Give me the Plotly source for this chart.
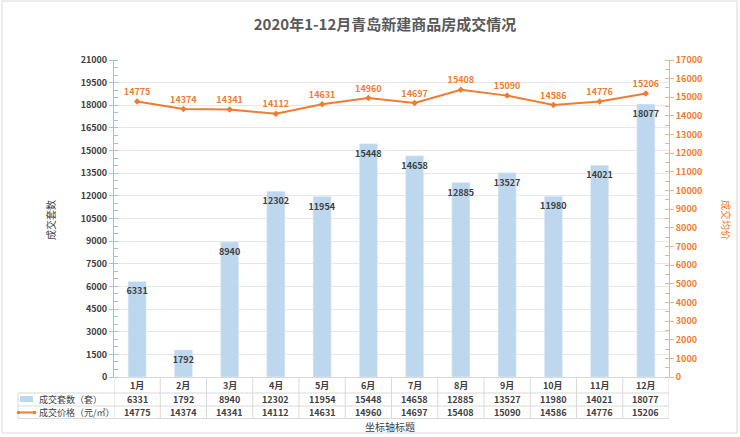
import plotly.graph_objects as go

months = ['1月', '2月', '3月', '4月', '5月', '6月', '7月', '8月', '9月', '10月', '11月', '12月']
units_sold = [6331, 1792, 8940, 12302, 11954, 15448, 14658, 12885, 13527, 11980, 14021, 18077]
avg_price = [14775, 14374, 14341, 14112, 14631, 14960, 14697, 15408, 15090, 14586, 14776, 15206]

W, H = 740, 437
L, R, T, B = 114, 669, 60, 377
FONT = "Noto Sans CJK SC"
DARK = '#404040'
BLUE = '#BDD7EE'
ORANGE = '#ED7D31'
GRID = '#D9D9D9'


def px_x(p):
    return (p - L) / (R - L)


def px_y(p):
    return (B - p) / (B - T)


fig = go.Figure()
fig.add_trace(go.Bar(
    x=months, y=units_sold, name='成交套数（套）',
    marker_color=BLUE, text=units_sold, textposition='inside',
    insidetextanchor='end', textangle=0, constraintext='none',
    textfont=dict(size=9, color=DARK, family=FONT, weight='bold'),
))
fig.add_trace(go.Scatter(
    x=months, y=avg_price, name='成交价格（元/㎡）', yaxis='y2',
    mode='lines+markers+text', text=avg_price, textposition='top center',
    line=dict(color=ORANGE, width=2),
    marker=dict(symbol='diamond', size=5, color=ORANGE),
    textfont=dict(size=9, color=ORANGE, family=FONT, weight='bold'),
    cliponaxis=False,
))

fig.update_layout(
    width=W, height=H,
    margin=dict(l=L, r=W - R, t=T, b=H - B),
    paper_bgcolor='white', plot_bgcolor='white',
    showlegend=False, bargap=0.61,
    font=dict(family=FONT, color=DARK),
    title=dict(text='2020年1-12月青岛新建商品房成交情况', x=385 / W, xanchor='center',
               y=1 - 25 / H, yanchor='middle',
               font=dict(size=15, color='#595959', family=FONT, weight='bold')),
    xaxis=dict(range=[-0.5, 11.5], showticklabels=False, ticks='',
               showline=True, linecolor=GRID, linewidth=1, showgrid=False),
    yaxis=dict(range=[0, 21000], dtick=1500, tickformat='d', showgrid=True, gridcolor='#E7E7E7',
               showline=True, linecolor='#9DC3E6', linewidth=1,
               ticks='outside', ticklen=4, tickcolor='#9DC3E6',
               minor=dict(dtick=500, ticks='inside', ticklen=4, tickcolor='#9DC3E6', showgrid=False),
               tickfont=dict(size=9, color=DARK, weight='bold'), zeroline=False),
    yaxis2=dict(range=[0, 17000], dtick=1000, tickformat='d', overlaying='y', side='right',
                showgrid=False, showline=True, linecolor='#F4B183', linewidth=1,
                ticks='outside', ticklen=4, tickcolor='#F4B183',
                minor=dict(dtick=500, ticks='inside', ticklen=4, tickcolor='#F4B183'),
                tickfont=dict(size=9, color=ORANGE, weight='bold'), zeroline=False),
)

shapes = []
# chart area border
shapes.append(dict(type='rect', xref='paper', yref='paper',
                   x0=px_x(2), x1=px_x(737), y0=px_y(433), y1=px_y(1),
                   line=dict(color='#D9D9D9', width=1)))
# data table grid
for yy in [393, 406, 418.5]:
    shapes.append(dict(type='line', xref='paper', yref='paper',
                       x0=px_x(18), x1=1, y0=px_y(yy), y1=px_y(yy),
                       line=dict(color=GRID, width=1)))
shapes.append(dict(type='line', xref='paper', yref='paper',
                   x0=px_x(18), x1=px_x(18), y0=px_y(393), y1=px_y(418.5),
                   line=dict(color=GRID, width=1)))
for i in range(len(months) + 1):
    shapes.append(dict(type='line', xref='x', yref='paper',
                       x0=i - 0.5, x1=i - 0.5, y0=0, y1=px_y(418.5),
                       line=dict(color=GRID, width=1)))
# legend keys
shapes.append(dict(type='rect', xref='paper', yref='paper',
                   x0=px_x(20), x1=px_x(33), y0=px_y(402), y1=px_y(396),
                   fillcolor=BLUE, line=dict(width=0)))
shapes.append(dict(type='line', xref='paper', yref='paper',
                   x0=px_x(18), x1=px_x(35), y0=px_y(412.5), y1=px_y(412.5),
                   line=dict(color=ORANGE, width=2)))
for cx in (18.5, 34.5):
    shapes.append(dict(type='circle', xref='paper', yref='paper',
                       x0=px_x(cx - 1.8), x1=px_x(cx + 1.8),
                       y0=px_y(412.5 + 1.8), y1=px_y(412.5 - 1.8),
                       fillcolor=ORANGE, line=dict(width=0)))
fig.update_layout(shapes=shapes)


def label(x, y, text, xref='paper', size=9, color=DARK, bold=False, xanchor='center', angle=0):
    return dict(x=x, y=y, xref=xref, yref='paper', text=text, showarrow=False,
                xanchor=xanchor, yanchor='middle', textangle=angle,
                font=dict(size=size, color=color, family=FONT,
                          weight='bold' if bold else 'normal'))


ann = []
for i, m in enumerate(months):
    ann.append(label(m, px_y(385), m, xref='x', bold=True))
    ann.append(label(m, px_y(399.5), str(units_sold[i]), xref='x', bold=True))
    ann.append(label(m, px_y(412.5), str(avg_price[i]), xref='x', bold=True))
ann.append(label(px_x(37), px_y(399.5), '成交套数（套）', size=9, xanchor='left'))
ann.append(label(px_x(37), px_y(412.5), '成交价格（元/㎡）', size=9, xanchor='left'))
ann.append(label(px_x(390), px_y(426), '坐标轴标题', size=10))
ann.append(label(px_x(50), px_y(220), '成交套数', size=10, angle=-90))
ann.append(label(px_x(727), px_y(220), '成交均价', size=10, color=ORANGE, angle=90))
fig.update_layout(annotations=ann)

# drop the default page margin so the figure sits at the window's corner
fig.write_html("out.html", config={'displayModeBar': False},
               post_script="document.body.style.margin='0';")
